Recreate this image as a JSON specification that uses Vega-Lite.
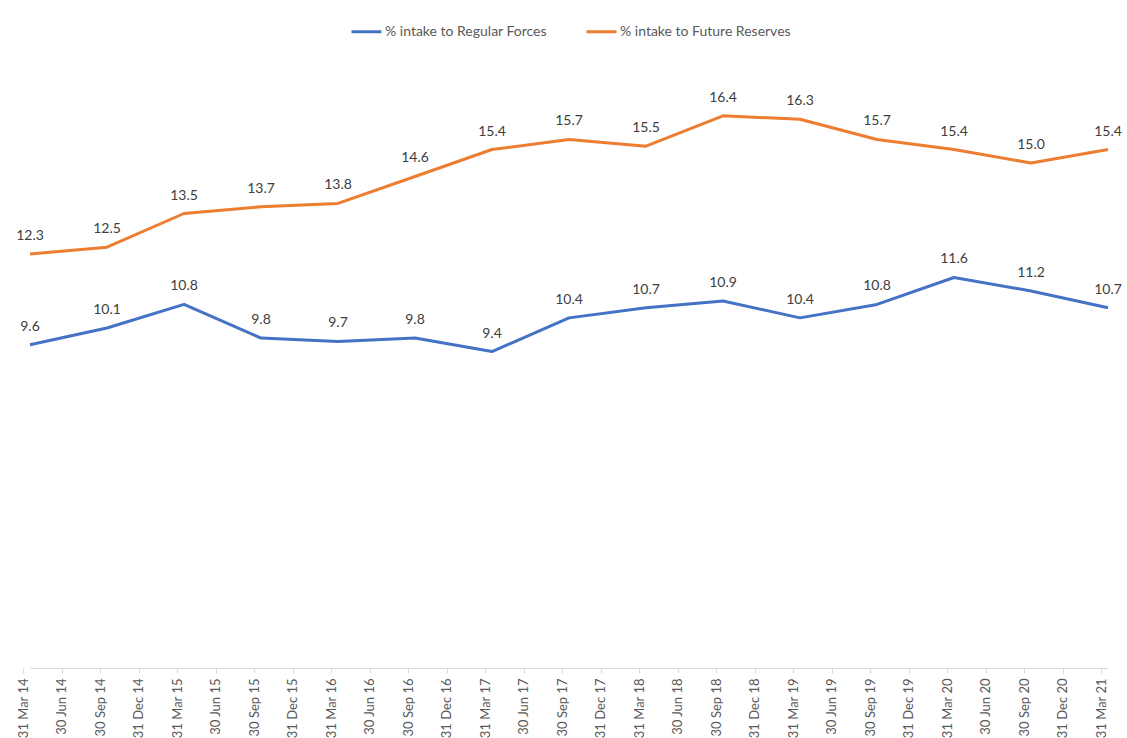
{
  "$schema": "https://vega.github.io/schema/vega-lite/v6.json",
  "width": 1078,
  "height": 606,
  "autosize": {"type": "none"},
  "padding": {"left": 30, "top": 62, "right": 19, "bottom": 70},
  "background": "white",
  "config": {"view": {"stroke": null}, "font": "Lato"},
  "data": {"values": [
    {"date": "31 Mar 14", "series": "% intake to Regular Forces", "value": 9.6},
    {"date": "30 Sep 14", "series": "% intake to Regular Forces", "value": 10.1},
    {"date": "31 Mar 15", "series": "% intake to Regular Forces", "value": 10.8},
    {"date": "30 Sep 15", "series": "% intake to Regular Forces", "value": 9.8},
    {"date": "31 Mar 16", "series": "% intake to Regular Forces", "value": 9.7},
    {"date": "30 Sep 16", "series": "% intake to Regular Forces", "value": 9.8},
    {"date": "31 Mar 17", "series": "% intake to Regular Forces", "value": 9.4},
    {"date": "30 Sep 17", "series": "% intake to Regular Forces", "value": 10.4},
    {"date": "31 Mar 18", "series": "% intake to Regular Forces", "value": 10.7},
    {"date": "30 Sep 18", "series": "% intake to Regular Forces", "value": 10.9},
    {"date": "31 Mar 19", "series": "% intake to Regular Forces", "value": 10.4},
    {"date": "30 Sep 19", "series": "% intake to Regular Forces", "value": 10.8},
    {"date": "31 Mar 20", "series": "% intake to Regular Forces", "value": 11.6},
    {"date": "30 Sep 20", "series": "% intake to Regular Forces", "value": 11.2},
    {"date": "31 Mar 21", "series": "% intake to Regular Forces", "value": 10.7},
    {"date": "31 Mar 14", "series": "% intake to Future Reserves", "value": 12.3},
    {"date": "30 Sep 14", "series": "% intake to Future Reserves", "value": 12.5},
    {"date": "31 Mar 15", "series": "% intake to Future Reserves", "value": 13.5},
    {"date": "30 Sep 15", "series": "% intake to Future Reserves", "value": 13.7},
    {"date": "31 Mar 16", "series": "% intake to Future Reserves", "value": 13.8},
    {"date": "30 Sep 16", "series": "% intake to Future Reserves", "value": 14.6},
    {"date": "31 Mar 17", "series": "% intake to Future Reserves", "value": 15.4},
    {"date": "30 Sep 17", "series": "% intake to Future Reserves", "value": 15.7},
    {"date": "31 Mar 18", "series": "% intake to Future Reserves", "value": 15.5},
    {"date": "30 Sep 18", "series": "% intake to Future Reserves", "value": 16.4},
    {"date": "31 Mar 19", "series": "% intake to Future Reserves", "value": 16.3},
    {"date": "30 Sep 19", "series": "% intake to Future Reserves", "value": 15.7},
    {"date": "31 Mar 20", "series": "% intake to Future Reserves", "value": 15.4},
    {"date": "30 Sep 20", "series": "% intake to Future Reserves", "value": 15.0},
    {"date": "31 Mar 21", "series": "% intake to Future Reserves", "value": 15.4}
  ]},
  "encoding": {
    "x": {
      "field": "date", "type": "ordinal",
      "scale": {"type": "point", "padding": 0, "domain": [
        "31 Mar 14","30 Jun 14","30 Sep 14","31 Dec 14",
        "31 Mar 15","30 Jun 15","30 Sep 15","31 Dec 15",
        "31 Mar 16","30 Jun 16","30 Sep 16","31 Dec 16",
        "31 Mar 17","30 Jun 17","30 Sep 17","31 Dec 17",
        "31 Mar 18","30 Jun 18","30 Sep 18","31 Dec 18",
        "31 Mar 19","30 Jun 19","30 Sep 19","31 Dec 19",
        "31 Mar 20","30 Jun 20","30 Sep 20","31 Dec 20",
        "31 Mar 21"]},
      "axis": {
        "title": null, "labelAngle": -90, "labelFontSize": 13, "labelColor": "#595959",
        "labelPadding": 5, "domainColor": "#D9D9D9", "tickColor": "#D9D9D9", "tickSize": 5,
        "tickOffset": -7, "labelBaseline": "middle", "labelAlign": "right", "labelBound": false,
        "labelOverlap": false
      }
    },
    "y": {
      "field": "value", "type": "quantitative",
      "scale": {"domain": [0, 18], "nice": false},
      "axis": null
    },
    "color": {
      "field": "series", "type": "nominal",
      "scale": {"domain": ["% intake to Regular Forces", "% intake to Future Reserves"], "range": ["#4472C4", "#ED7D31"]},
      "legend": {
        "title": null, "orient": "none", "direction": "horizontal", "legendX": 320, "legendY": -47,
        "symbolType": "stroke", "symbolSize": 900, "symbolStrokeWidth": 3, "labelLimit": 400,
        "labelFontSize": 14, "labelColor": "#595959", "columnPadding": 33, "labelOffset": 2
      }
    }
  },
  "layer": [
    {"mark": {"type": "line", "strokeWidth": 3, "strokeJoin": "round"}},
    {"mark": {"type": "text", "dy": -18, "fontSize": 14, "color": "#404040"},
     "encoding": {"text": {"field": "value", "type": "quantitative", "format": ".1f"}, "color": {"value": "#404040"}}}
  ]
}
